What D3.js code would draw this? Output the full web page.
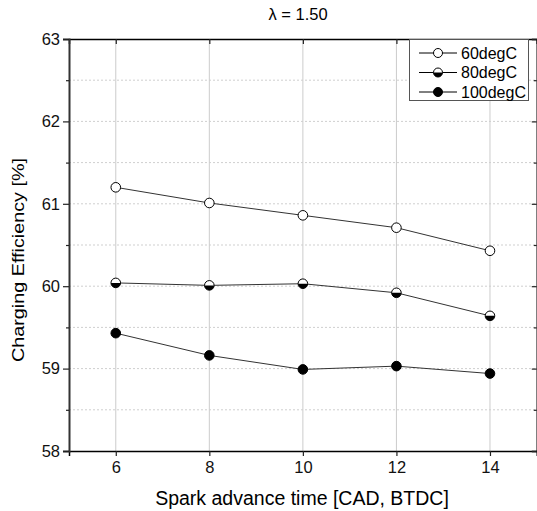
<!DOCTYPE html>
<html>
<head>
<meta charset="utf-8">
<script src="https://cdn.jsdelivr.net/npm/d3@7"></script>
<style>
  body { margin: 0; background: #fff; }
  svg { display: block; font-family: "Liberation Sans", Arial, sans-serif; }
</style>
</head>
<body>
<svg id="chart" width="537" height="511"></svg>
<script>
// data
var sparkTimes = [6, 8, 10, 12, 14];
var eff60 = [61.20, 61.01, 60.86, 60.71, 60.43];
var eff80 = [60.04, 60.01, 60.03, 59.92, 59.64];
var eff100 = [59.43, 59.16, 58.99, 59.03, 58.94];
var seriesNames = ['60degC', '80degC', '100degC'];
var xTicks = [6, 8, 10, 12, 14];
var yTicks = [58, 59, 60, 61, 62, 63];
var yMinor = [58.5, 59.5, 60.5, 61.5, 62.5];

var series = [
    { name: seriesNames[0], values: eff60, fill: 'open' },
    { name: seriesNames[1], values: eff80, fill: 'half' },
    { name: seriesNames[2], values: eff100, fill: 'full' }
];

var svg = d3.select('#chart');
var plotL = 69, plotR = 536.75, plotT = 39, plotB = 451;

var x = d3.scaleLinear().domain([5, 15]).range([plotL, plotR]);
var y = d3.scaleLinear().domain([58, 63]).range([plotB, plotT]);

// grid
svg.append('g').selectAll('line')
    .data(xTicks).enter().append('line')
    .attr('x1', d => x(d)).attr('x2', d => x(d))
    .attr('y1', plotT).attr('y2', plotB)
    .attr('stroke', '#cccccc').attr('stroke-width', 1);

svg.append('g').selectAll('line')
    .data(yTicks.concat(yMinor).filter(d => d > 58 && d < 63)).enter().append('line')
    .attr('x1', plotL).attr('x2', plotR)
    .attr('y1', d => y(d)).attr('y2', d => y(d))
    .attr('stroke', '#cfcfcf').attr('stroke-width', 1)
    .attr('stroke-dasharray', '2,2');

// axes
var xAxis = d3.axisBottom(x).tickValues(xTicks).tickSize(5).tickPadding(5).tickFormat(d3.format('d'));
var gx = svg.append('g').attr('transform', 'translate(0,' + plotB + ')').call(xAxis);
gx.select('.domain').attr('stroke', '#000').attr('stroke-width', 1.5);

var xTop = d3.axisTop(x).tickValues(xTicks).tickSize(-5).tickFormat('');
var gxt = svg.append('g').attr('transform', 'translate(0,' + plotT + ')').call(xTop);
gxt.select('.domain').attr('stroke', '#000').attr('stroke-width', 1.5);

var yAxis = d3.axisLeft(y).tickValues(yTicks).tickSize(6).tickPadding(3).tickFormat(d3.format('d'));
var gy = svg.append('g').attr('transform', 'translate(' + plotL + ',0)').call(yAxis);
gy.select('.domain').attr('stroke', '#333').attr('stroke-width', 2);
svg.append('g').attr('transform', 'translate(' + plotL + ',0)')
    .call(d3.axisLeft(y).tickValues(yMinor).tickSize(3).tickFormat(''))
    .select('.domain').remove();

var yRight = d3.axisRight(y).tickValues(yTicks).tickSize(-5).tickFormat('');
var gyr = svg.append('g').attr('transform', 'translate(' + plotR + ',0)').call(yRight);
gyr.select('.domain').attr('stroke', '#000').attr('stroke-width', 1.5);
svg.append('g').attr('transform', 'translate(' + plotR + ',0)')
    .call(d3.axisRight(y).tickValues(yMinor).tickSize(-3).tickFormat(''))
    .select('.domain').remove();

svg.selectAll('.tick line').attr('stroke', '#222').attr('stroke-width', 1.2);
svg.selectAll('.tick text').attr('font-size', 16.5).attr('fill', '#111')
    .attr('font-family', '"Liberation Sans", Arial, sans-serif');

// labels
svg.append('text').attr('x', 298).attr('y', 20).attr('text-anchor', 'middle')
    .attr('font-size', 16.5).text('λ = 1.50');
svg.append('text').attr('x', 302).attr('y', 505).attr('text-anchor', 'middle')
    .attr('font-size', 19.5).text('Spark advance time [CAD, BTDC]');
svg.append('text').attr('transform', 'translate(24,260) rotate(-90)')
    .attr('text-anchor', 'middle').attr('font-size', 17)
    .attr('textLength', 204).attr('lengthAdjust', 'spacingAndGlyphs')
    .text('Charging Efficiency [%]');

// markers
function drawMarker(g, cx, cy, kind, r) {
    if (kind == 'half') {
        g.append('circle').attr('cx', cx).attr('cy', cy).attr('r', r).attr('fill', '#fff');
        g.append('path')
            .attr('d', d3.arc()({ innerRadius: 0, outerRadius: r, startAngle: Math.PI / 2, endAngle: Math.PI * 1.5 }))
            .attr('transform', 'translate(' + cx + ',' + cy + ')')
            .attr('fill', '#000');
    }
    g.append('circle').attr('cx', cx).attr('cy', cy).attr('r', r)
        .attr('fill', kind == 'full' ? '#000' : (kind == 'half' ? 'none' : '#fff'))
        .attr('stroke', '#000').attr('stroke-width', 1);
}

var line = d3.line().x((d, i) => x(sparkTimes[i])).y(d => y(d));

series.forEach(s => {
    var g = svg.append('g');
    g.append('path').datum(s.values)
        .attr('d', line).attr('fill', 'none')
        .attr('stroke', '#333').attr('stroke-width', 1);
    s.values.forEach((v, i) => {
        drawMarker(g, x(sparkTimes[i]), y(v), s.fill, 4.8);
    });
});

// legend
var lg = svg.append('g');
lg.append('rect').attr('x', 409.5).attr('y', 39.5).attr('width', 119).attr('height', 61)
    .attr('fill', '#fff').attr('stroke', '#555').attr('stroke-width', 1);
series.forEach((s, i) => {
    var ly = 53 + i * 19.5;
    lg.append('line').attr('x1', 419).attr('x2', 457).attr('y1', ly).attr('y2', ly)
        .attr('stroke', '#000').attr('stroke-width', 1);
    drawMarker(lg, 438, ly, s.fill, 4.5);
    lg.append('text').attr('x', 461).attr('y', ly + 5.5).attr('font-size', 16).text(s.name);
});
</script>
</body>
</html>
